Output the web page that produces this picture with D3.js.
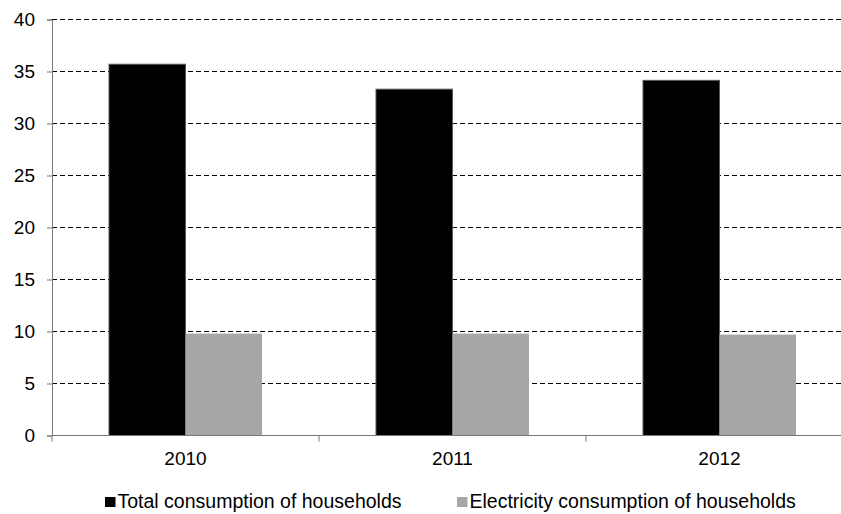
<!DOCTYPE html>
<html>
<head>
<meta charset="utf-8">
<script src="https://cdn.jsdelivr.net/npm/d3@7"></script>
<style>
  html, body { margin: 0; padding: 0; background: #fff; }
  svg { display: block; font-family: "Liberation Sans", Arial, sans-serif; }
</style>
</head>
<body>
<svg id="chart" width="841" height="514"></svg>
<script>
// Household consumption by year
const years = ["2010", "2011", "2012"];
const seriesNames = ["Total consumption of households", "Electricity consumption of households"];
const totalConsumption = [35.7, 33.3, 34.15];
const electricityConsumption = [9.8, 9.8, 9.7];
const yTicks = [0, 5, 10, 15, 20, 25, 30, 35, 40];
const seriesColors = ["#000000", "#a6a6a6"];

const svg = d3.select("#chart");
const plotLeft = 52, plotRight = 853, plotTop = 19.5, plotBottom = 435.5;
const fontSize = 19;

const x = d3.scaleBand().domain(years).range([plotLeft, plotRight]).paddingInner(0).paddingOuter(0);
const sub = d3.scaleBand().domain(seriesNames).range([0, x.bandwidth()]).paddingInner(0).paddingOuter(0.745);
const y = d3.scaleLinear().domain([0, 40]).range([plotBottom, plotTop]);

// dashed gridlines
svg.append("g")
  .selectAll("line")
  .data(yTicks.filter(d => d > 0))
  .join("line")
  .attr("x1", plotLeft).attr("x2", plotRight)
  .attr("y1", d => y(d)).attr("y2", d => y(d))
  .attr("stroke", "#000").attr("stroke-width", 1)
  .attr("stroke-dasharray", "5,3");

// bars
const rows = years.map((yr, i) => ({ year: yr, values: [totalConsumption[i], electricityConsumption[i]] }));
const groups = svg.append("g").selectAll("g").data(rows).join("g")
  .attr("transform", d => `translate(${x(d.year)},0)`);
groups.selectAll("rect")
  .data(d => d.values.map((v, k) => ({ name: seriesNames[k], value: v, k })))
  .join("rect")
  .attr("x", d => sub(d.name))
  .attr("width", sub.bandwidth())
  .attr("y", d => y(d.value))
  .attr("height", d => y(0) - y(d.value))
  .attr("fill", d => seriesColors[d.k])
  .attr("stroke", d => d.k === 0 ? "#595959" : "none")
  .attr("stroke-width", 1);

// y axis
const yAxis = d3.axisLeft(y).tickValues(yTicks).tickSize(5).tickPadding(12).tickFormat(d3.format("d"));
const gy = svg.append("g").attr("transform", `translate(${plotLeft},0)`).call(yAxis);
gy.select(".domain").attr("stroke", "#777");
gy.selectAll(".tick line").attr("stroke", "#777");
gy.selectAll(".tick text").attr("font-size", fontSize).attr("fill", "#000")
  .attr("font-family", "Liberation Sans, Arial, sans-serif");

// x axis with ticks at category boundaries
const gx = svg.append("g").attr("transform", `translate(0,${plotBottom})`);
gx.append("line").attr("x1", plotLeft).attr("x2", plotRight).attr("y1", 0).attr("y2", 0).attr("stroke", "#777");
gx.selectAll("line.bt").data(years.map(d => x(d)).concat([plotRight]))
  .join("line").attr("class", "bt")
  .attr("x1", d => d).attr("x2", d => d).attr("y1", 0).attr("y2", 6).attr("stroke", "#777");
gx.selectAll("text").data(years).join("text")
  .attr("x", d => x(d) + x.bandwidth() / 2)
  .attr("y", 29)
  .attr("text-anchor", "middle")
  .attr("font-size", fontSize)
  .attr("fill", "#000")
  .text(d => d);

// legend
const legendX = [105, 457];
const lg = svg.append("g").selectAll("g").data(seriesNames).join("g")
  .attr("transform", (d, i) => `translate(${legendX[i]},497)`);
lg.append("rect").attr("width", 10.5).attr("height", 10)
  .attr("fill", (d, i) => seriesColors[i]);
lg.append("text").attr("x", 12.5).attr("y", 10.5).attr("font-size", fontSize + 0.5).attr("fill", "#000").text(d => d);
</script>
</body>
</html>
